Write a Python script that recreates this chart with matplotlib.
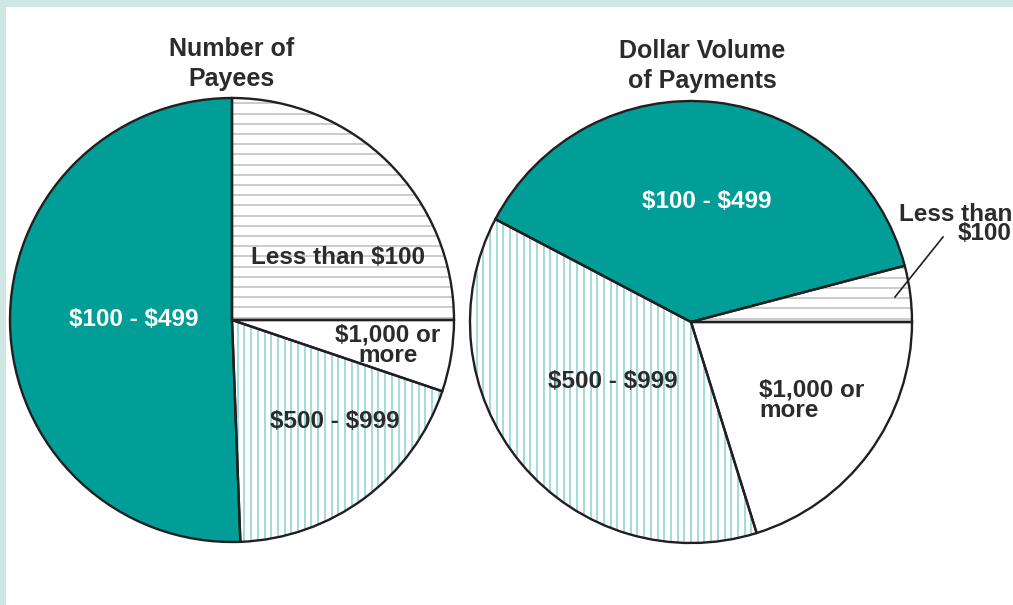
import matplotlib
matplotlib.use("Agg")
import matplotlib.pyplot as plt
import numpy as np

# Datos (porcentajes)
categorias = ["Less than $100", "$1,000 or more", "$500 - $999", "$100 - $499"]
payees_pct = [25.0, 5.2, 19.2, 50.6]          # Number of Payees (desde arriba, sentido horario)
volumen_cat = ["$1,000 or more", "$500 - $999", "$100 - $499", "Less than $100"]
volumen_pct = [20.2, 37.5, 38.2, 4.1]          # Dollar Volume (desde 0 grados, sentido horario)

titulos = ["Number of\nPayees", "Dollar Volume\nof Payments"]

TEAL = "#009e96"
HATCH_GRIS = "#bdbdbd"
HATCH_TEAL = "#8ad2ce"
BORDE = "#231f20"
TEXTO = "#2b2b2b"
FONDO = "#cfe7e3"

colores = {"Less than $100": "white", "$1,000 or more": "white",
           "$500 - $999": "white", "$100 - $499": TEAL}

W, H = 1013, 605
plt.rcParams['font.family'] = ['Liberation Sans', 'DejaVu Sans']
plt.rcParams['text.parse_math'] = False   # los $ son texto, no mathtext

fig = plt.figure(figsize=(W / 100, H / 100), dpi=100)
fig.patch.set_facecolor(FONDO)
ax = fig.add_axes([0, 0, 1, 1])

# panel blanco
ax.add_patch(plt.Rectangle((6, 0), W - 6, H - 7, facecolor="white", edgecolor="none", zorder=0))


def y(v):
    # coordenada de imagen -> coordenada de datos
    return H - v


def torta(cats, vals, centro, radio, start):
    wedges, _ = ax.pie(vals, colors=[colores[c] for c in cats], startangle=start,
                       counterclock=False, center=centro, radius=radio, frame=True,
                       wedgeprops=dict(linewidth=0, edgecolor="none"))
    for w, c in zip(wedges, cats):
        w.set_zorder(1)
        if c == "Less than $100":
            ys = np.arange(centro[1] - radio, centro[1] + radio, 10.2)
            lc = ax.hlines(ys, centro[0] - radio, centro[0] + radio, color=HATCH_GRIS, lw=1.1, zorder=2)
            lc.set_clip_path(w)
        elif c == "$500 - $999":
            xs = np.arange(centro[0] - radio, centro[0] + radio, 6.7)
            lc = ax.vlines(xs, centro[1] - radio, centro[1] + radio, color=HATCH_TEAL, lw=1.1, zorder=2)
            lc.set_clip_path(w)
    # contornos
    ax.pie(vals, colors=["none"] * len(vals), startangle=start, counterclock=False,
           center=centro, radius=radio, frame=True,
           wedgeprops=dict(linewidth=1.7, edgecolor=BORDE, fill=False, zorder=3))


torta(categorias, payees_pct, (232, y(320)), 222, 90)
torta(volumen_cat, volumen_pct, (691, y(322)), 221, 0)

ax.set_xlim(0, W)
ax.set_ylim(0, H)
ax.set_aspect("auto")
ax.axis("off")

tit = dict(fontsize=18, fontweight="bold", color=TEXTO, ha="center", va="center",
           linespacing=1.3)
ax.text(232, y(64), titulos[0], **tit)
ax.text(702, y(66), titulos[1], **tit)

lab = dict(fontsize=17.5, fontweight="bold", va="center")
ax.text(134, y(320), "$100 - $499", color="white", ha="center", **lab)
ax.text(338, y(257), "Less than $100", color=TEXTO, ha="center", **lab)
ax.text(388, y(345), "$1,000 or\nmore", color=TEXTO, ha="center", linespacing=0.85, **lab)
ax.text(335, y(421), "$500 - $999", color=TEXTO, ha="center", **lab)

ax.text(707, y(202), "$100 - $499", color="white", ha="center", **lab)
ax.text(1012, y(224), "Less than\n$100", color=TEXTO, ha="right", linespacing=0.8, **lab)
ax.plot([943, 895], [y(237), y(297)], color=BORDE, lw=1.2, zorder=4)
ax.text(613, y(382), "$500 - $999", color=TEXTO, ha="center", **lab)
ax.text(759, y(400), "$1,000 or\nmore", color=TEXTO, ha="left", linespacing=0.85, **lab)

fig.savefig("out.png", dpi=100, facecolor=fig.get_facecolor())
